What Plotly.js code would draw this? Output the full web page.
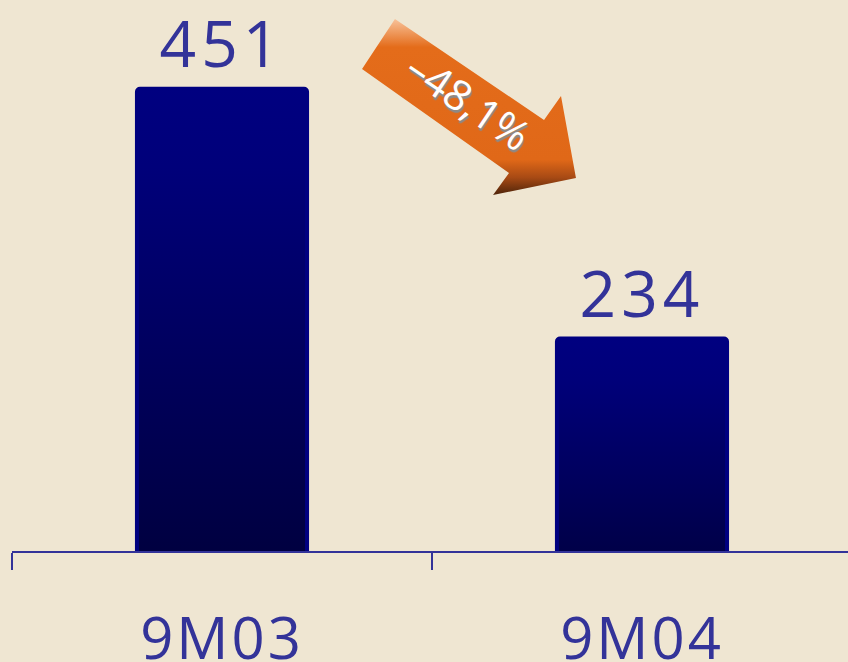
<!DOCTYPE html>
<html>
<head>
<meta charset="utf-8">
<script src="https://cdn.plot.ly/plotly-3.0.1.min.js"></script>
<style>
  html, body { margin: 0; padding: 0; background: #EFE6D2; }
  #chart { width: 848px; height: 662px; }
</style>
</head>
<body>
<div id="chart"></div>
<script>
// Data
const categories = ["9M03", "9M04"];
const values = [451, 234];
const valueLabels = ["451", "234"];
const changeLabel = "\u201348,1%";

const textColor = "#333399";
const bg = "#EFE6D2";

const trace = {
  type: "bar",
  x: categories,
  y: values,
  width: 0.405,
  text: valueLabels,
  textposition: "outside",
  cliponaxis: false,
  textfont: { family: "Open Sans, Noto Sans, sans-serif", size: 64, color: textColor },
  marker: { color: "#000060", line: { color: "#000080", width: 4 }, cornerradius: 3 },
  hoverinfo: "skip"
};

const layout = {
  width: 848, height: 662,
  paper_bgcolor: bg, plot_bgcolor: bg,
  margin: { l: 12, r: 0, t: 0, b: 111 },
  showlegend: false,
  xaxis: {
    type: "category",
    range: [-0.5, 1.4905],
    showline: true, linecolor: textColor, linewidth: 2,
    ticks: "outside", tickson: "boundaries", ticklen: 17, tickwidth: 2, tickcolor: textColor,
    tickfont: { family: "Open Sans, Noto Sans, sans-serif", size: 58, color: textColor },
    ticklabelstandoff: 36,
    showgrid: false, zeroline: false, fixedrange: true
  },
  yaxis: {
    range: [49.5, 528],
    visible: false, showgrid: false, zeroline: false, fixedrange: true
  },
  shapes: [{
    type: "path", xref: "paper", yref: "paper", layer: "above",
    path: "M0.4581,0.9655 L0.4187,0.8748 L0.5945,0.6860 L0.5754,0.6461 L0.6746,0.6770 L0.6567,0.8258 L0.6364,0.7822 Z",
    fillcolor: "#E26A18", line: { width: 0 }
  }],
  annotations: [{
    xref: "paper", yref: "paper", x: 0.5467, y: 0.8185,
    text: changeLabel, showarrow: false, textangle: 34,
    xanchor: "center", yanchor: "middle",
    font: { family: "Open Sans, Noto Sans, sans-serif", size: 42, color: "#FFFFFF", shadow: "2px 2px 1px #8a8a8a" }
  }]
};

Plotly.newPlot("chart", [trace], layout, { staticPlot: true, displayModeBar: false }).then(function () {
  const svg = document.querySelector("#chart .main-svg");
  const ns = "http://www.w3.org/2000/svg";
  let defs = svg.querySelector("defs");
  if (!defs) { defs = document.createElementNS(ns, "defs"); svg.insertBefore(defs, svg.firstChild); }
  function grad(id, stops) {
    const g = document.createElementNS(ns, "linearGradient");
    g.setAttribute("id", id);
    g.setAttribute("x1", "0"); g.setAttribute("y1", "0");
    g.setAttribute("x2", "0"); g.setAttribute("y2", "1");
    stops.forEach(function (s) {
      const st = document.createElementNS(ns, "stop");
      st.setAttribute("offset", s[0]);
      st.setAttribute("stop-color", s[1]);
      g.appendChild(st);
    });
    defs.appendChild(g);
  }
  grad("barGrad", [["0", "#000080"], ["0.15", "#00007A"], ["1", "#000038"]]);
  grad("arrowGrad", [["0", "#F8C29A"], ["0.16", "#E46C1A"], ["0.8", "#E06818"], ["0.9", "#A84A14"], ["1", "#4E240A"]]);
  document.querySelectorAll("#chart .bars .point path").forEach(function (p) {
    p.style.fill = "url(#barGrad)";
  });
  document.querySelectorAll("#chart .shapelayer path").forEach(function (p) {
    p.style.fill = "url(#arrowGrad)";
  });
  document.querySelectorAll("#chart .bars .point text").forEach(function (t) {
    t.style.letterSpacing = "5px";
  });
  document.querySelectorAll("#chart .xtick text").forEach(function (t) {
    t.style.letterSpacing = "3px";
  });
});
</script>
</body>
</html>
